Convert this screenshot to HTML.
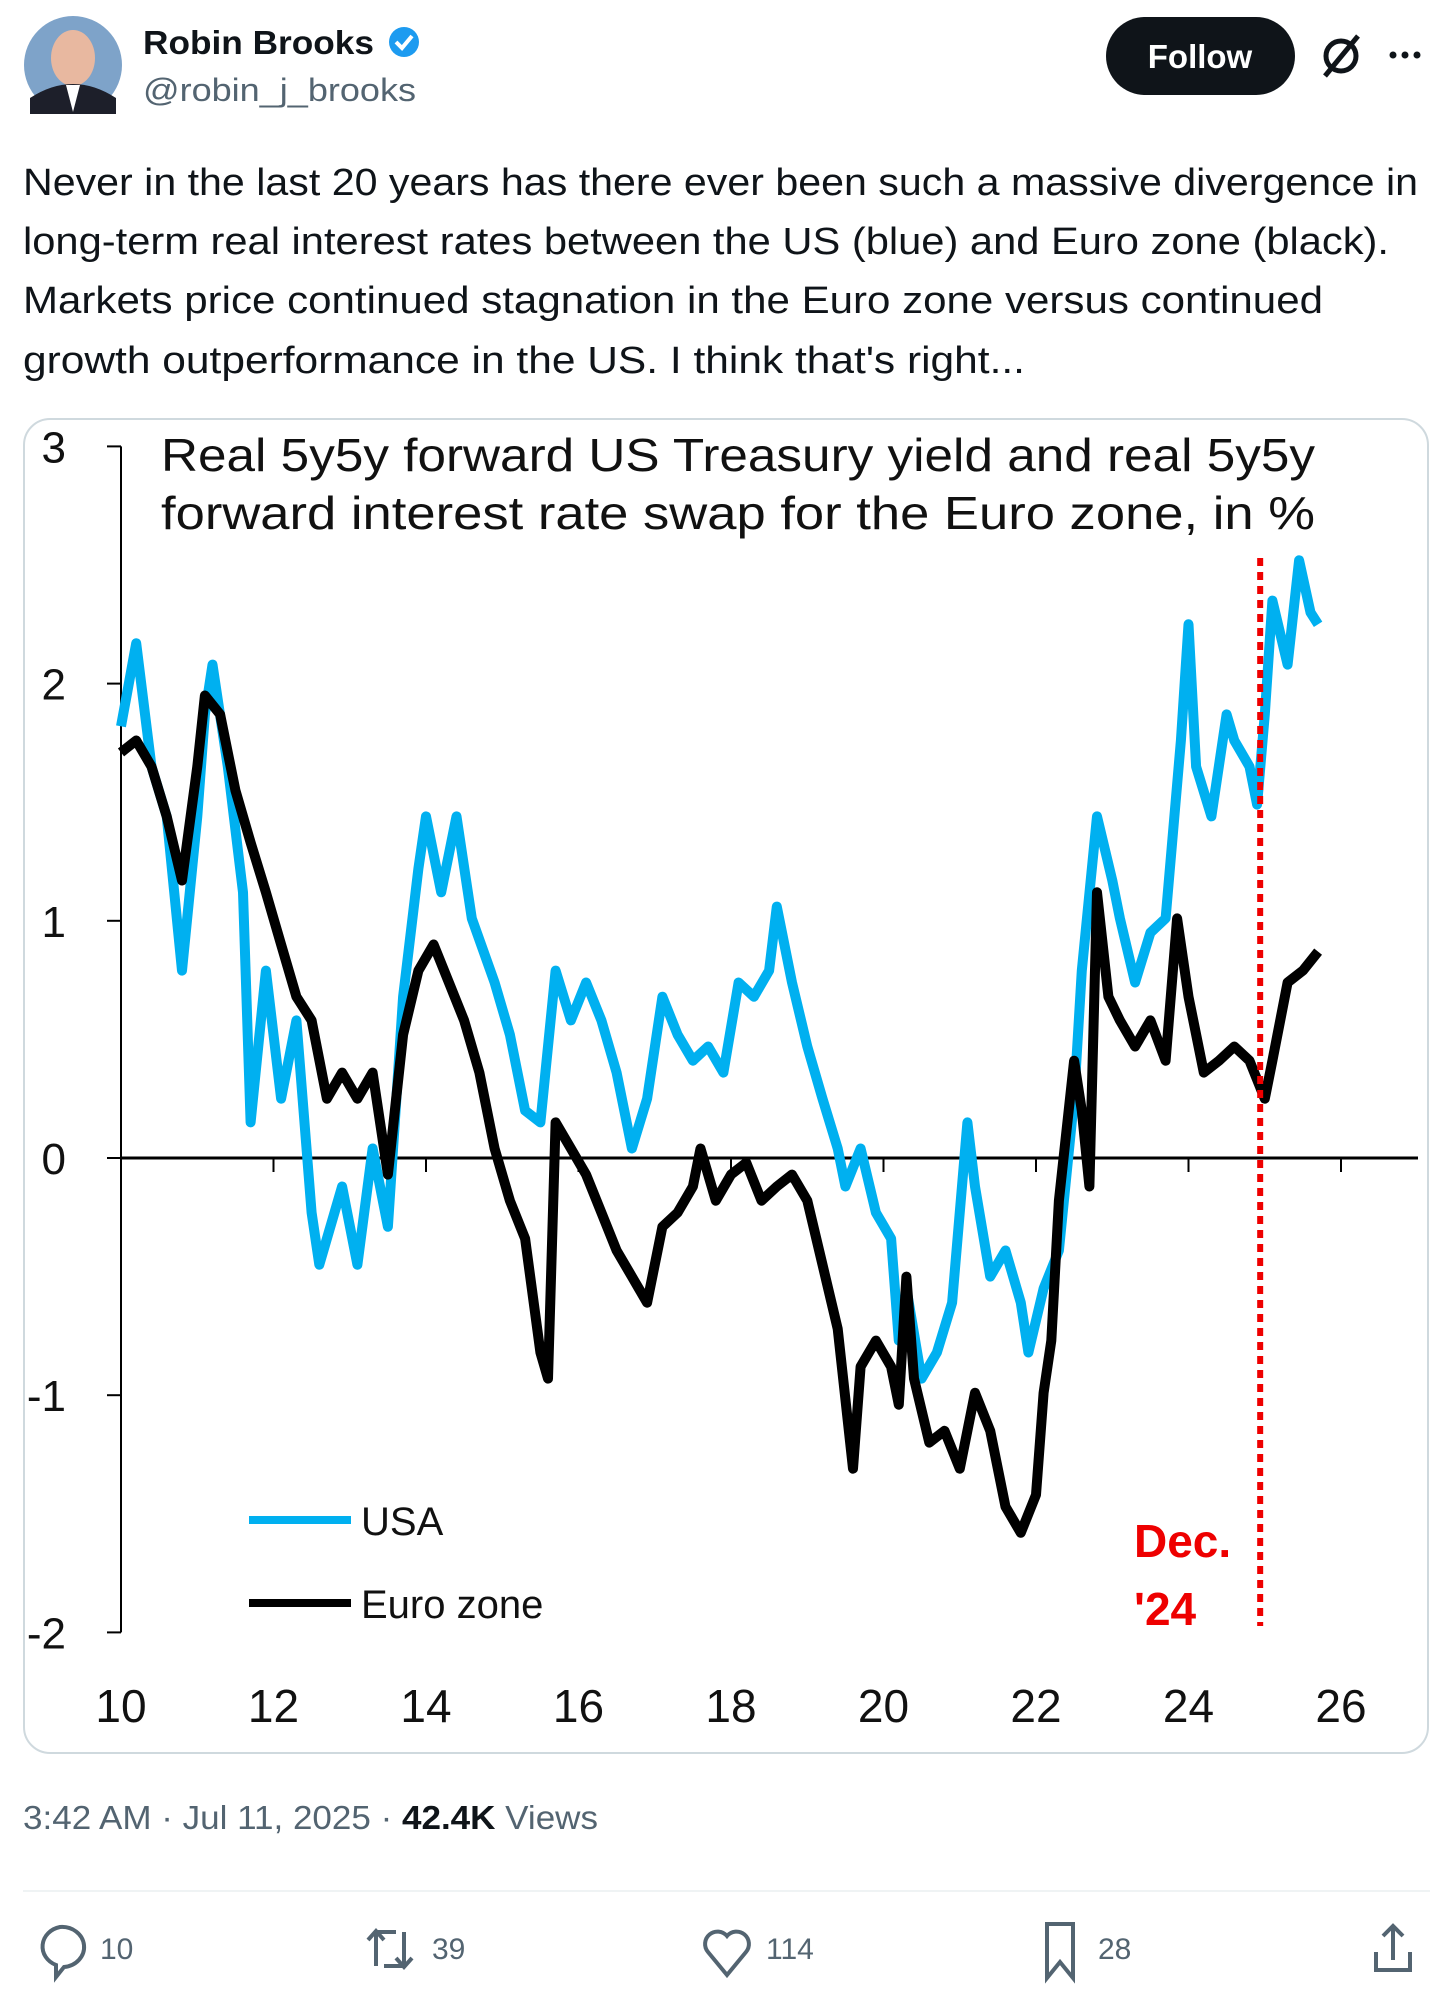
<!DOCTYPE html>
<html><head><meta charset="utf-8">
<style>
html,body{margin:0;padding:0;background:#fff;width:1456px;height:1996px;overflow:hidden}
svg{display:block}
text{font-family:"Liberation Sans",sans-serif}
</style></head>
<body>
<svg id="page" width="1456" height="1996" viewBox="0 0 1456 1996" xmlns="http://www.w3.org/2000/svg">
  <g>
    <circle cx="73" cy="65" r="49" fill="#7ea3c9"/>
    <ellipse cx="73" cy="58" rx="22" ry="28" fill="#e8b8a0"/>
    <path d="M30,98 Q73,70 116,98 L116,114 L30,114 Z" fill="#1d1f2a"/>
    <path d="M66,85 L73,112 L80,85 Z" fill="#fff"/>
  </g>
  <text x="143" y="54" font-size="33" font-weight="bold" fill="#0f1419" textLength="231" lengthAdjust="spacingAndGlyphs">Robin Brooks</text>
  <g>
    <circle cx="404" cy="42" r="15" fill="#1d9bf0"/>
    <path d="M396,42 L402,48 L412,36" stroke="#fff" stroke-width="4" fill="none"/>
  </g>
  <text x="143" y="101" font-size="32" fill="#536471" textLength="273" lengthAdjust="spacingAndGlyphs">@robin_j_brooks</text>
  <g>
    <rect x="1106" y="17" width="189" height="78" rx="39" fill="#0f1419"/>
    <text x="1200" y="68" font-size="33" font-weight="bold" fill="#fff" text-anchor="middle">Follow</text>
  </g>
  <g stroke="#0f1419" stroke-width="5" fill="none">
    <circle cx="1341" cy="56" r="15"/>
    <line x1="1325" y1="76" x2="1358" y2="36"/>
  </g>
  <g fill="#0f1419">
    <circle cx="1393" cy="55" r="3.5"/><circle cx="1405" cy="55" r="3.5"/><circle cx="1417" cy="55" r="3.5"/>
  </g>
  <g font-size="38" fill="#0f1419">
    <text x="23" y="195" textLength="1395" lengthAdjust="spacingAndGlyphs">Never in the last 20 years has there ever been such a massive divergence in</text>
    <text x="23" y="254" textLength="1366" lengthAdjust="spacingAndGlyphs">long-term real interest rates between the US (blue) and Euro zone (black).</text>
    <text x="23" y="313" textLength="1300" lengthAdjust="spacingAndGlyphs">Markets price continued stagnation in the Euro zone versus continued</text>
    <text x="23" y="373" textLength="1002" lengthAdjust="spacingAndGlyphs">growth outperformance in the US. I think that's right...</text>
  </g>
  <rect x="24" y="419" width="1404" height="1334" rx="26" fill="#fff" stroke="#cfd9de" stroke-width="2"/>
  <g font-size="46" fill="#111">
    <text x="161" y="471" textLength="1154" lengthAdjust="spacingAndGlyphs">Real 5y5y forward US Treasury yield and real 5y5y</text>
    <text x="161" y="529" textLength="1154" lengthAdjust="spacingAndGlyphs">forward interest rate swap for the Euro zone, in %</text>
  </g>
  <g id="plot"></g>
  <g>
    <g>
      <line x1="249" y1="1520" x2="351" y2="1520" stroke="#00b0f0" stroke-width="8"/>
      <text x="361" y="1535" font-size="40" fill="#111">USA</text>
    </g>
    <g>
      <line x1="249" y1="1603" x2="351" y2="1603" stroke="#000" stroke-width="8"/>
      <text x="361" y="1618" font-size="40" fill="#111">Euro zone</text>
    </g>
  </g>
  <g font-size="46" font-weight="bold" fill="#ee0000">
    <text x="1134" y="1557">Dec.</text>
    <text x="1134" y="1625">'24</text>
  </g>
  <text x="23" y="1829" font-size="33" fill="#536471" textLength="575" lengthAdjust="spacingAndGlyphs">3:42 AM · Jul 11, 2025 · <tspan font-weight="bold" fill="#0f1419">42.4K</tspan> Views</text>
  <line x1="23" y1="1891" x2="1430" y2="1891" stroke="#eff3f4" stroke-width="2"/>
  <g font-size="30" fill="#536471" transform="translate(0,-6)">
    <g>
      <path d="M60,1933 a22,20 0 1 1 4,40 l-8,10 l0,-12 a22,20 0 0 1 4,-38 z" fill="none" stroke="#536471" stroke-width="4"/>
      <text x="100" y="1965">10</text>
    </g>
    <g fill="none" stroke="#536471" stroke-width="4">
      <path d="M376,1972 V1938 h20 M368,1946 l8,-9 l8,9"/>
      <path d="M404,1938 V1972 h-20 M396,1964 l8,9 l8,-9"/>
    </g>
    <text x="432" y="1965">39</text>
    <g>
      <path d="M727,1981 L708,1958 a11,11 0 0 1 19,-16 a11,11 0 0 1 19,16 Z" fill="none" stroke="#536471" stroke-width="4"/>
      <text x="766" y="1965">114</text>
    </g>
    <g>
      <path d="M1047,1930 h26 v54 l-13,-16 l-13,16 Z" fill="none" stroke="#536471" stroke-width="4"/>
      <text x="1098" y="1965">28</text>
    </g>
    <g fill="none" stroke="#536471" stroke-width="4">
      <path d="M1393,1966 V1932 M1383,1942 l10,-10 l10,10 M1376,1958 v18 h34 v-18"/>
    </g>
  </g>
</svg>
<script>
const years = [10,12,14,16,18,20,22,24,26];
const yTicks = [3,2,1,0,-1,-2];
const usX = [10.0,10.2,10.4,10.6,10.8,11.0,11.1,11.2,11.4,11.6,11.7,11.9,12.1,12.3,12.5,12.6,12.9,13.1,13.3,13.5,13.7,13.9,14.0,14.2,14.4,14.6,14.9,15.1,15.3,15.5,15.7,15.9,16.1,16.3,16.5,16.7,16.9,17.1,17.3,17.5,17.7,17.9,18.1,18.3,18.5,18.6,18.8,19.0,19.2,19.4,19.5,19.7,19.9,20.1,20.2,20.3,20.5,20.7,20.9,21.1,21.2,21.4,21.6,21.8,21.9,22.1,22.3,22.5,22.6,22.8,23.0,23.1,23.3,23.5,23.7,23.9,24.0,24.1,24.3,24.5,24.6,24.8,24.9,25.0,25.1,25.3,25.45,25.6,25.7];
const usY = [1.82,2.17,1.65,1.44,0.79,1.44,1.87,2.08,1.65,1.12,0.15,0.79,0.25,0.58,-0.23,-0.45,-0.12,-0.45,0.04,-0.29,0.68,1.22,1.44,1.12,1.44,1.01,0.74,0.52,0.2,0.15,0.79,0.58,0.74,0.58,0.36,0.04,0.25,0.68,0.52,0.41,0.47,0.36,0.74,0.68,0.79,1.06,0.74,0.47,0.25,0.04,-0.12,0.04,-0.23,-0.34,-0.77,-0.55,-0.93,-0.82,-0.61,0.15,-0.12,-0.5,-0.39,-0.61,-0.82,-0.55,-0.39,0.25,0.79,1.44,1.17,1.01,0.74,0.95,1.01,1.76,2.25,1.65,1.44,1.87,1.76,1.65,1.49,1.87,2.35,2.08,2.52,2.3,2.25];
const ezX = [10.0,10.2,10.4,10.6,10.8,11.0,11.1,11.3,11.5,11.7,11.9,12.1,12.3,12.5,12.7,12.9,13.1,13.3,13.5,13.7,13.9,14.1,14.3,14.5,14.7,14.9,15.1,15.3,15.5,15.6,15.7,15.9,16.1,16.3,16.5,16.7,16.9,17.1,17.3,17.5,17.6,17.8,18.0,18.2,18.4,18.6,18.8,19.0,19.2,19.4,19.6,19.7,19.9,20.1,20.2,20.3,20.4,20.6,20.8,21.0,21.2,21.4,21.6,21.8,22.0,22.1,22.2,22.3,22.5,22.6,22.7,22.8,22.95,23.1,23.3,23.5,23.7,23.85,24.0,24.2,24.4,24.6,24.8,25.0,25.1,25.3,25.5,25.7];
const ezY = [1.71,1.76,1.65,1.44,1.17,1.65,1.95,1.87,1.55,1.33,1.12,0.9,0.68,0.58,0.25,0.36,0.25,0.36,-0.07,0.52,0.79,0.9,0.74,0.58,0.36,0.04,-0.18,-0.34,-0.82,-0.93,0.15,0.04,-0.07,-0.23,-0.39,-0.5,-0.61,-0.29,-0.23,-0.12,0.04,-0.18,-0.07,-0.02,-0.18,-0.12,-0.07,-0.18,-0.45,-0.72,-1.31,-0.88,-0.77,-0.88,-1.04,-0.5,-0.93,-1.2,-1.15,-1.31,-0.99,-1.15,-1.47,-1.58,-1.42,-0.99,-0.77,-0.18,0.41,0.2,-0.12,1.12,0.68,0.58,0.47,0.58,0.41,1.01,0.68,0.36,0.41,0.47,0.41,0.25,0.41,0.74,0.79,0.87];
const markerYear = 24.94;

const NS = 'http://www.w3.org/2000/svg';
const plot = document.getElementById('plot');
const xs = y => 121 + (y - 10) * 76.25;
const ys = v => 1158 - v * 237.2;
function mk(tag, attrs, parent) {
  const e = document.createElementNS(NS, tag);
  for (const k in attrs) e.setAttribute(k, attrs[k]);
  (parent || plot).appendChild(e);
  return e;
}
const yAxis = mk('line', {x1: xs(10), y1: ys(3), x2: xs(10), y2: ys(-2), stroke: '#000', 'stroke-width': 2});


yTicks.forEach(t => {
  const tk = mk('line', {x1: xs(10) - 14, y1: ys(t), x2: xs(10), y2: ys(t), stroke: '#000', 'stroke-width': 2});
  
  
  const lb = mk('text', {x: 66, y: ys(t) + 16, 'font-size': 44, 'text-anchor': 'end', fill: '#111'});
  lb.textContent = String(t);
  
  
});
const zl = mk('line', {x1: xs(10), y1: ys(0), x2: 1418, y2: ys(0), stroke: '#000', 'stroke-width': 3});


years.forEach(yr => {
  if (yr > 10) {
    const tk = mk('line', {x1: xs(yr), y1: ys(0), x2: xs(yr), y2: ys(0) + 14, stroke: '#000', 'stroke-width': 2});
    
    
  }
  const lb = mk('text', {x: xs(yr), y: 1722, 'font-size': 46, 'text-anchor': 'middle', fill: '#111'});
  lb.textContent = String(yr);
  
  
});
function path(xArr, yArr) {
  return xArr.map((x, i) => (i ? 'L' : 'M') + xs(x).toFixed(1) + ',' + ys(yArr[i]).toFixed(1)).join(' ');
}
const usLine = mk('path', {d: path(usX, usY), fill: 'none', stroke: '#00b0f0', 'stroke-width': 10, 'stroke-linejoin': 'round'});


const ezLine = mk('path', {d: path(ezX, ezY), fill: 'none', stroke: '#000', 'stroke-width': 10, 'stroke-linejoin': 'round'});


const mkLine = mk('line', {x1: xs(markerYear), y1: 558, x2: xs(markerYear), y2: 1626, stroke: '#ee0000', 'stroke-width': 6, 'stroke-dasharray': '8 6'});


</script>
</body></html>
